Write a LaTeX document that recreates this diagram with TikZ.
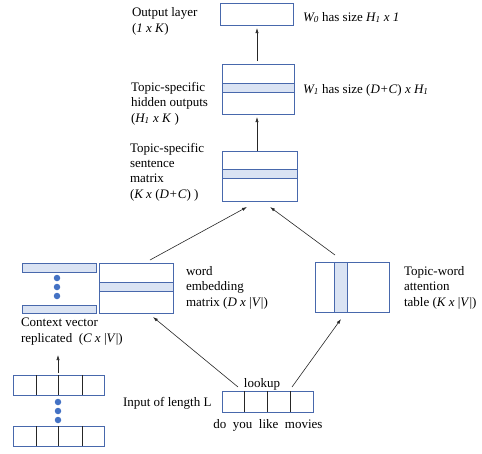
\documentclass[tikz,border=0pt]{standalone}
\usepackage{fontspec}
\setmainfont{Liberation Serif}
\usetikzlibrary{arrows.meta}
\definecolor{bxc}{RGB}{72,104,172}
\definecolor{bandc}{RGB}{218,227,243}
\definecolor{dotc}{RGB}{68,114,196}
\begin{document}
\begin{tikzpicture}[x=1pt,y=-1pt,
  bx/.style={draw=bxc, line width=0.8pt, inner sep=0pt, outer sep=0pt, fill=white},
  bandbox/.style={fill=bandc, draw=bxc, line width=0.8pt},
  divider/.style={draw=black!85, line width=0.7pt},
  arr/.style={-{Latex[length=5pt,width=3.2pt]}, line width=0.6pt, draw=black!85},
  lbl/.style={anchor=base west, inner sep=0pt, outer sep=0pt, align=left, font=\fontsize{13}{15.3}\selectfont},
  dotstyle/.style={fill=dotc, draw=none, circle, inner sep=0pt, minimum size=6.5pt}]
\useasboundingbox (0,0) rectangle (482,453);

% output layer
\node[bx, minimum width=73pt, minimum height=22pt] (out) at (256.5,14) {};
% hidden outputs
\node[bx, minimum width=72pt, minimum height=50pt] (hid) at (258,89) {};
\draw[bandbox] (222,83) rectangle (294,92);
% sentence matrix
\node[bx, minimum width=75pt, minimum height=50pt] (sent) at (259.5,176) {};
\draw[bandbox] (222,169) rectangle (297,178);
% word embedding matrix
\node[bx, minimum width=74pt, minimum height=50pt] (emb) at (136,288) {};
\draw[bandbox] (99,282) rectangle (173,291);
% context vector bars
\node[bandbox, minimum width=74pt, minimum height=9pt, inner sep=0pt] (ctxa) at (59,267.5) {};
\node[bandbox, minimum width=74pt, minimum height=8pt, inner sep=0pt] (ctxb) at (59,309) {};
\node[dotstyle] (cd1) at (57,278) {};
\node[dotstyle] (cd2) at (57,287) {};
\node[dotstyle] (cd3) at (57,296) {};
% topic-word attention table
\node[bx, minimum width=74pt, minimum height=50pt] (att) at (352,287) {};
\draw[bandbox] (334,262) rectangle (347,312);
% input boxes
\node[bx, minimum width=91pt, minimum height=21pt] (inp) at (267.5,401.5) {};
\draw[divider] (244,391) -- (244,412) (267,391) -- (267,412) (290,391) -- (290,412);
% stacked inputs
\node[bx, minimum width=91pt, minimum height=20pt] (sa) at (58.5,385) {};
\draw[divider] (36,375) -- (36,395) (58,375) -- (58,395) (82,375) -- (82,395);
\node[bx, minimum width=91pt, minimum height=20pt] (sb) at (58.5,436) {};
\draw[divider] (36,426) -- (36,446) (58,426) -- (58,446) (82,426) -- (82,446);
\node[dotstyle] (sd1) at (58,402) {};
\node[dotstyle] (sd2) at (58,411) {};
\node[dotstyle] (sd3) at (58,420) {};

% connector end points
\coordinate (vx) at (257,0);
\coordinate (embT) at (150,260);
\coordinate (sentL) at (247,207);
\coordinate (attT) at (335,255);
\coordinate (sentR) at (270,207);
\coordinate (inpL) at (238,387);
\coordinate (embB) at (153,317);
\coordinate (inpR) at (292,387);
\coordinate (attB) at (341,319);
\coordinate (saT) at (58,373);
\coordinate (saU) at (58,355);

% arrows
\draw[arr] ([yshift=3pt]hid.north -| vx) -- ([yshift=-3pt]out.south -| vx);
\draw[arr] (sent.north -| vx) -- ([yshift=-3pt]hid.south -| vx);
\draw[arr] (embT) -- (sentL);
\draw[arr] (attT) -- (sentR);
\draw[arr] (inpL) -- (embB);
\draw[arr] (inpR) -- (attB);
\draw[arr] (saT) -- (saU);

% labels (anchored at the baseline of their last line)
\node[lbl] (tOut) at (132,32) {Output layer\\(\textit{1 x K})};
\node[lbl] (tW0) at (303,21) {\textit{W\textsubscript{0}} has size \textit{H\textsubscript{1} x 1}};
\node[lbl] (tHid) at (131,122) {Topic-specific\\hidden outputs\\(\textit{H\textsubscript{1} x K} )};
\node[lbl] (tW1) at (303,93) {\textit{W\textsubscript{1}} has size (\textit{D+C}) \textit{x H\textsubscript{1}}};
\node[lbl] (tSent) at (130,198) {Topic-specific\\sentence\\matrix\\(\textit{K x} (\textit{D+C}) )};
\node[lbl] (tEmb) at (186,306) {word\\embedding\\matrix (\textit{D x} |\textit{V}|)};
\node[lbl] (tCtx) at (21,342) {Context vector\\replicated~ (\textit{C x} |\textit{V}|)};
\node[lbl] (tAtt) at (404,306) {Topic-word\\attention\\table (\textit{K x} |\textit{V}|)};
\node[lbl] (tInp) at (123,406) {Input of length L};
\node[lbl, anchor=base] (tLook) at (262,387) {lookup};
\node[lbl, anchor=base] (tWords) at (268,428) {do~ you~ like~ movies};
\end{tikzpicture}
\end{document}
